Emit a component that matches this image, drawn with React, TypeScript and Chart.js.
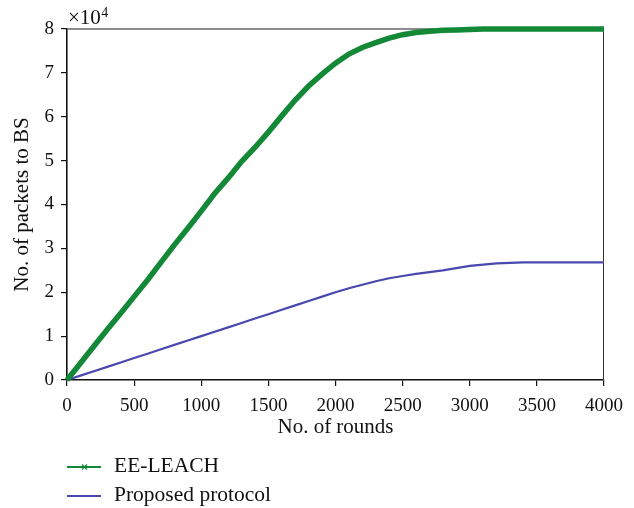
import React, { useEffect, useRef } from 'react';
import { Chart, registerables } from 'chart.js';

Chart.register(...registerables);

const rounds = [
  0, 100, 200, 300, 400, 500, 600, 700, 800, 900, 1000, 1100, 1200, 1300, 1400, 1500, 1600, 1700, 1800, 1900,
  2000, 2100, 2200, 2300, 2400, 2500, 2600, 2700, 2800, 2900, 3000, 3100, 3200, 3300, 3400, 3500, 3600, 3700,
  3800, 3900, 4000,
];

const eeLeach = [
  0, 3800, 7700, 11500, 15200, 19000, 22800, 26800, 30800, 34600, 38500, 42500, 46000, 49800, 53000, 56500,
  60200, 63800, 67000, 69700, 72200, 74300, 75800, 76900, 77900, 78700, 79200, 79500, 79700, 79800, 79900,
  80000, 80000, 80000, 80000, 80000, 80000, 80000, 80000, 80000, 80000,
];

const proposed = [
  0, 1000, 2000, 3000, 4000, 5000, 6000, 7000, 8000, 9000, 10000, 11000, 12000, 13000, 14000, 15000, 16000,
  17000, 18000, 19000, 20000, 20900, 21700, 22500, 23200, 23700, 24200, 24600, 25000, 25500, 26000, 26300,
  26600, 26700, 26800, 26800, 26800, 26800, 26800, 26800, 26800,
];

const seriesNames = ['EE-LEACH', 'Proposed protocol'];
const xTitle = 'No. of rounds';
const yTitle = 'No. of packets to BS';
const exponentBase = '×10';
const exponentPower = '4';

const GREEN = '#138837';
const BLUE = '#4848ae';
const FONT = "'Liberation Serif', 'Times New Roman', serif";

const framePlugin = {
  id: 'frame',
  beforeDatasetsDraw(chart: any) {
    const { ctx, chartArea } = chart;
    ctx.save();
    ctx.strokeStyle = '#666666';
    ctx.lineWidth = 1.7;
    ctx.beginPath();
    ctx.moveTo(chartArea.left, chartArea.top);
    ctx.lineTo(chartArea.right, chartArea.top);
    ctx.stroke();
    ctx.strokeStyle = '#333333';
    ctx.lineWidth = 1;
    ctx.beginPath();
    ctx.moveTo(chartArea.right - 0.5, chartArea.top);
    ctx.lineTo(chartArea.right - 0.5, chartArea.bottom);
    ctx.stroke();
    ctx.restore();
  },
  afterDraw(chart: any) {
    const { ctx, chartArea } = chart;
    ctx.save();
    // exponent label
    ctx.fillStyle = '#111';
    ctx.textBaseline = 'alphabetic';
    ctx.textAlign = 'left';
    ctx.font = `21px ${FONT}`;
    ctx.fillText(exponentBase, chartArea.left + 1, chartArea.top - 5);
    const w = ctx.measureText(exponentBase).width;
    ctx.font = `14px ${FONT}`;
    ctx.fillText(exponentPower, chartArea.left + 1 + w + 0.5, chartArea.top - 12);

    // legend
    const items = chart.data.datasets;
    const ys = [467, 496];
    items.forEach((ds: any, i: number) => {
      const y = ys[i];
      ctx.strokeStyle = ds.borderColor;
      ctx.lineWidth = 2;
      ctx.beginPath();
      ctx.moveTo(67, y);
      ctx.lineTo(101, y);
      ctx.stroke();
      if (i === 0) {
        ctx.lineWidth = 1.2;
        ctx.beginPath();
        ctx.moveTo(82, y - 2.5);
        ctx.lineTo(87, y + 2.5);
        ctx.moveTo(87, y - 2.5);
        ctx.lineTo(82, y + 2.5);
        ctx.stroke();
      } else {
        ctx.fillStyle = ds.borderColor;
        ctx.fillRect(83.5, y - 1, 2, 2);
      }
      ctx.fillStyle = '#111';
      ctx.font = `21.5px ${FONT}`;
      ctx.textBaseline = 'middle';
      ctx.fillText(ds.label, 114, y - 1);
    });
    ctx.restore();
  },
};

export default function App() {
  const canvasRef = useRef<HTMLCanvasElement | null>(null);

  useEffect(() => {
    const canvas = canvasRef.current;
    if (!canvas) return;
    const chart = new Chart(canvas, {
      type: 'line',
      data: {
        datasets: [
          {
            label: seriesNames[0],
            data: rounds.map((r, i) => ({ x: r, y: eeLeach[i] })),
            borderColor: GREEN,
            backgroundColor: GREEN,
            borderWidth: 5.5,
            pointRadius: 0,
            tension: 0,
            clip: 8,
          },
          {
            label: seriesNames[1],
            data: rounds.map((r, i) => ({ x: r, y: proposed[i] })),
            borderColor: BLUE,
            backgroundColor: BLUE,
            borderWidth: 2.2,
            pointRadius: 0,
            tension: 0,
            clip: 8,
          },
        ],
      },
      options: {
        animation: false,
        responsive: true,
        maintainAspectRatio: false,
        layout: { padding: { top: 29, left: 0, right: 30, bottom: 68 } },
        plugins: {
          legend: { display: false },
          tooltip: { enabled: false },
          title: { display: false },
        },
        scales: {
          x: {
            type: 'linear',
            min: 0,
            max: 4000,
            ticks: {
              stepSize: 500,
              color: '#111',
              font: { family: FONT, size: 19 },
              padding: 9,
              maxRotation: 0,
              callback: (v: any) => String(v),
            },
            grid: { display: true, drawOnChartArea: false, drawTicks: true, tickLength: 6, color: '#111', lineWidth: 1.2 },
            border: { display: true, color: '#111', width: 1.6 },
            title: {
              display: true,
              text: xTitle,
              color: '#111',
              font: { family: FONT, size: 21 },
              padding: { top: 0, bottom: 0 },
            },
            afterFit(scale: any) {
              scale.height = 60;
            },
          },
          y: {
            type: 'linear',
            min: 0,
            max: 80000,
            ticks: {
              stepSize: 10000,
              color: '#111',
              font: { family: FONT, size: 19 },
              padding: 7,
              callback: (v: any) => String(Number(v) / 10000),
            },
            grid: { display: true, drawOnChartArea: false, drawTicks: true, tickLength: 6, color: '#111', lineWidth: 1.2 },
            border: { display: true, color: '#111', width: 1.6 },
            title: {
              display: true,
              text: yTitle,
              color: '#111',
              font: { family: FONT, size: 21 },
              padding: { top: 10, bottom: 0 },
            },
            afterFit(scale: any) {
              scale.width = 67;
            },
          },
        },
      },
      plugins: [framePlugin],
    });
    return () => chart.destroy();
  }, []);

  return (
    <div style={{ position: 'fixed', left: 0, top: 0, width: 634, height: 508, background: '#fff' }}>
      <canvas ref={canvasRef} />
    </div>
  );
}
